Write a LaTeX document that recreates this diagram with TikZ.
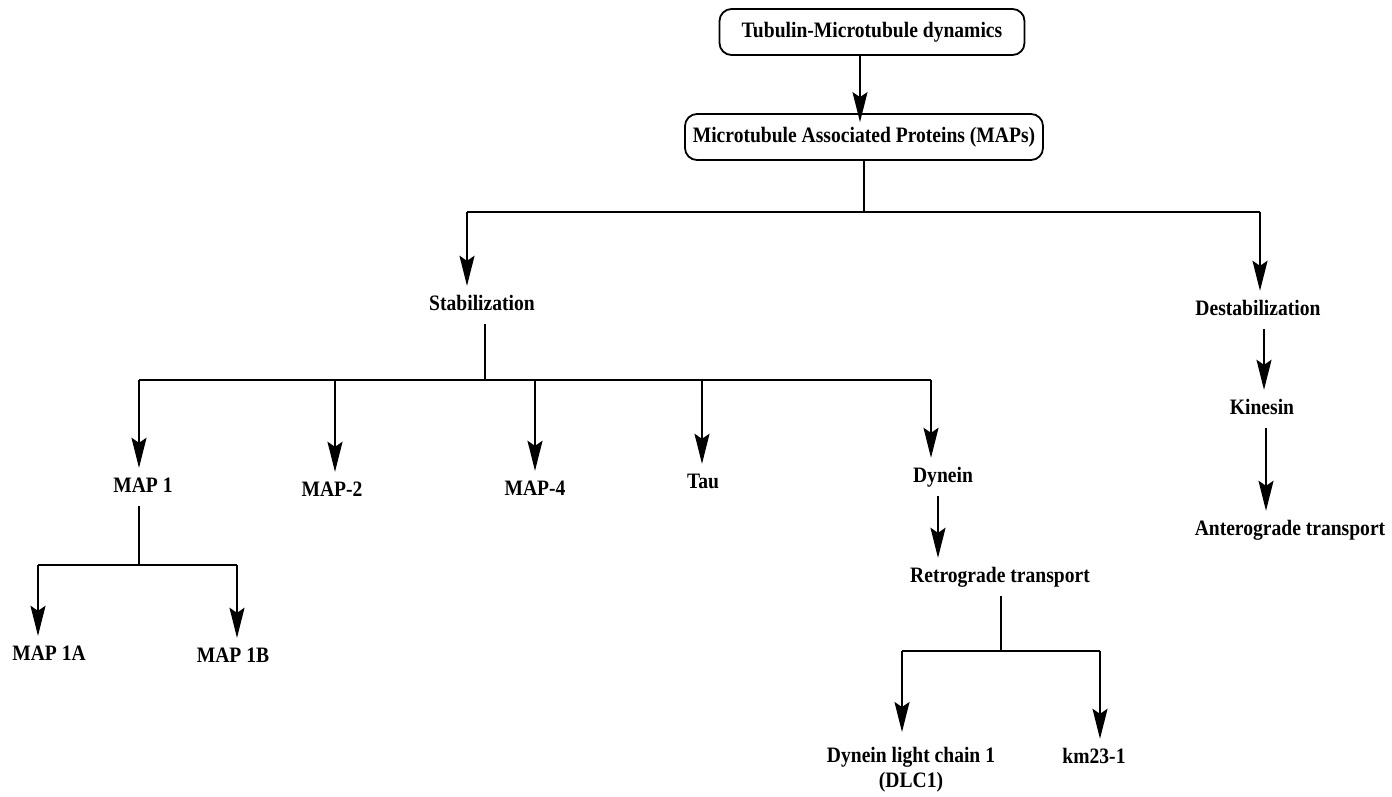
\documentclass[tikz,border=0pt]{standalone}
\usepackage{fontspec}
\setmainfont{Liberation Serif}[FakeStretch=0.89]
\usetikzlibrary{arrows.meta}
\begin{document}
\begin{tikzpicture}[x=1pt,y=-1pt]
 \tikzstyle{box}=[draw, line width=1.8pt, rounded corners=12pt, minimum height=46pt, text height=15pt, text depth=5pt, font=\fontsize{22}{25}\selectfont\bfseries]
 \tikzstyle{lab}=[font=\fontsize{22}{25}\selectfont\bfseries, inner xsep=2pt, inner ysep=9pt]
 \tikzstyle{word}=[lab, text height=15pt, text depth=5pt, anchor=base]
 \tikzstyle{link}=[line width=1.8pt, -{Stealth[length=30pt, width=15pt, inset=5pt]}]
 \tikzstyle{bar}=[line width=1.8pt]
 \useasboundingbox (0,0) rectangle (1392,796);
 % boxes
 \node[box, minimum width=305pt] (TMD) at (872,32) {Tubulin-Microtubule dynamics};
 \node[box, minimum width=358pt] (MAPs) at (864,137) {Microtubule Associated Proteins (MAPs)};
 % labels
 \node[word] (Stab) at (482,310) {Stabilization};
 \node[word] (Destab) at (1258,315) {Destabilization};
 \node[word] (Kin) at (1262,414) {Kinesin};
 \node[word] (Antero) at (1290,535) {Anterograde transport};
 \node[word] (MAPone) at (143,492) {MAP 1};
 \node[word] (MAPtwo) at (332,496) {MAP-2};
 \node[word] (MAPfour) at (535,495) {MAP-4};
 \node[word] (Tau) at (703,488) {Tau};
 \node[word] (Dyn) at (943,482) {Dynein};
 \node[word] (Retro) at (1000,582) {Retrograde transport};
 \node[word] (MAPoneA) at (49,660) {MAP 1A};
 \node[word] (MAPoneB) at (233,662) {MAP 1B};
 \node[lab, align=center, anchor=north, inner ysep=15pt] (DLC) at (911,732) {Dynein light chain 1\\(DLC1)};
 \node[word] (km) at (1094,763) {km23-1};
 % junctions
 \coordinate (s1) at (467,212);
 \coordinate (d1) at (1260,212);
 \coordinate (m1) at (139,380);
 \coordinate (m2) at (335,380);
 \coordinate (m4) at (535,380);
 \coordinate (t1) at (702,380);
 \coordinate (y1) at (931,380);
 \coordinate (a1) at (38,565);
 \coordinate (b1) at (237,565);
 \coordinate (c1) at (902,651);
 \coordinate (k1) at (1100,651);
 % connectors
 \draw[link, shorten >=-9pt] (TMD.south -| 860,0) -- (MAPs.north -| 860,0);
 \draw[bar] (MAPs.south) -- (MAPs.south |- s1);
 \draw[bar] (s1) -- (d1);
 \draw[link] (s1) -- (s1 |- Stab.north);
 \draw[link] (d1) -- (d1 |- Destab.north);
 \draw[bar] (Stab.south -| 485,0) -- (m1 -| 485,0);
 \draw[bar] (m1) -- (y1);
 \draw[link] (m1) -- (m1 |- MAPone.north);
 \draw[link] (m2) -- (m2 |- MAPtwo.north);
 \draw[link] (m4) -- (m4 |- MAPfour.north);
 \draw[link] (t1) -- (t1 |- Tau.north);
 \draw[link] (y1) -- (y1 |- Dyn.north);
 \draw[bar] (MAPone.south -| m1) -- (a1 -| m1);
 \draw[bar] (a1) -- (b1);
 \draw[link] (a1) -- (a1 |- MAPoneA.north);
 \draw[link] (b1) -- (b1 |- MAPoneB.north);
 \draw[link] (Dyn.south -| 938,0) -- (Retro.north -| 938,0);
 \draw[bar] (Retro.south -| 1001,0) -- (c1 -| 1001,0);
 \draw[bar] (c1) -- (k1);
 \draw[link] (c1) -- (c1 |- DLC.north);
 \draw[link] (k1) -- (k1 |- km.north);
 \draw[link] (Destab.south -| 1264,0) -- (Kin.north -| 1264,0);
 \draw[link] (Kin.south -| 1266,0) -- (Antero.north -| 1266,0);
\end{tikzpicture}
\end{document}
